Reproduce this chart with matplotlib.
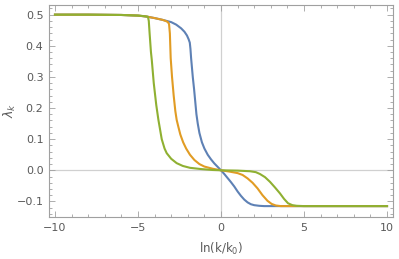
import matplotlib
matplotlib.use("Agg")
import matplotlib.pyplot as plt
from matplotlib.ticker import MultipleLocator

# ---- data ----
blue_x = [-10, -8, -6, -5, -4.5, -4, -3.5, -3, -2.7, -2.4, -2.2, -2.05, -1.95, -1.88,
          -1.84, -1.80, -1.75, -1.70, -1.62, -1.55, -1.48, -1.40, -1.30, -1.15, -1.0,
          -0.8, -0.6, -0.4, -0.2, 0, 0.2, 0.4, 0.6, 0.8, 1.0, 1.2, 1.4, 1.6, 1.8, 2.0,
          2.3, 2.6, 3, 5, 10]
blue_y = [0.5, 0.5, 0.499, 0.497, 0.494, 0.489, 0.483, 0.476, 0.468, 0.456, 0.445,
          0.433, 0.421, 0.41, 0.39, 0.36, 0.33, 0.30, 0.26, 0.22, 0.18, 0.15, 0.12,
          0.09, 0.07, 0.05, 0.035, 0.022, 0.011, 0, -0.012, -0.025, -0.038, -0.052,
          -0.068, -0.082, -0.094, -0.103, -0.109, -0.112, -0.114, -0.115, -0.115,
          -0.115, -0.115]

orange_x = [-10, -8, -6, -5, -4.5, -4, -3.5, -3.3, -3.2, -3.13, -3.08, -3.03, -2.95,
            -2.85, -2.75, -2.67, -2.57, -2.45, -2.28, -2.1, -1.87, -1.6, -1.3, -1.0,
            -0.5, 0, 0.5, 1.0, 1.3, 1.6, 1.9, 2.2, 2.5, 2.8, 3.05, 3.3, 3.6, 10]
orange_y = [0.5, 0.5, 0.499, 0.497, 0.494, 0.489, 0.483, 0.479, 0.476, 0.47, 0.44,
            0.36, 0.30, 0.24, 0.19, 0.162, 0.14, 0.115, 0.09, 0.07, 0.05, 0.033, 0.02,
            0.012, 0.005, 0, -0.004, -0.009, -0.015, -0.026, -0.04, -0.058, -0.08,
            -0.098, -0.108, -0.113, -0.115, -0.115]

green_x = [-10, -8, -6, -5, -4.6, -4.4, -4.35, -4.3, -4.22, -4.17, -4.05, -3.9, -3.77,
           -3.57, -3.4, -3.27, -3.0, -2.67, -2.3, -1.87, -1.2, -0.5, 0, 1, 1.75, 2.1,
           2.35, 2.65, 2.95, 3.25, 3.55, 3.8, 4.04, 4.3, 4.56, 5, 10]
green_y = [0.5, 0.5, 0.499, 0.497, 0.495, 0.493, 0.48, 0.44, 0.38, 0.355, 0.28, 0.21,
           0.162, 0.1, 0.07, 0.055, 0.037, 0.023, 0.014, 0.008, 0.004, 0.001, 0,
           -0.001, -0.003, -0.006, -0.012, -0.022, -0.037, -0.055, -0.074, -0.092,
           -0.106, -0.112, -0.114, -0.115, -0.115]

x_ticks = [-10, -5, 0, 5, 10]
y_ticks = [-0.1, 0.0, 0.1, 0.2, 0.3, 0.4, 0.5]
y_tick_labels = ["\u22120.1", "0.0", "0.1", "0.2", "0.3", "0.4", "0.5"]
x_tick_labels = ["\u221210", "\u22125", "0", "5", "10"]

# ---- styling ----
BLUE = "#5E81B5"
ORANGE = "#E19C24"
GREEN = "#8FB032"
FRAME = "#a0a0a0"
TEXT = "#5a5a5a"

fig = plt.figure(figsize=(3.99, 2.59), dpi=100)
ax = fig.add_axes([49/399, 1-217/259, (393-49)/399, (217-5)/259])

ax.axhline(0, color="#d0d0d0", lw=0.9, zorder=1)
ax.axvline(0, color="#d0d0d0", lw=0.9, zorder=1)

lw = 1.5
ax.plot(blue_x, blue_y, color=BLUE, lw=lw, zorder=3, solid_joinstyle="round")
ax.plot(orange_x, orange_y, color=ORANGE, lw=lw, zorder=4, solid_joinstyle="round")
ax.plot(green_x, green_y, color=GREEN, lw=lw, zorder=5, solid_joinstyle="round")

ax.set_xlim(-10.36, 10.36)
ax.set_ylim(-0.150, 0.531)

ax.set_xticks(x_ticks)
ax.set_xticklabels(x_tick_labels)
ax.set_yticks(y_ticks)
ax.set_yticklabels(y_tick_labels)
ax.xaxis.set_minor_locator(MultipleLocator(1))
ax.yaxis.set_minor_locator(MultipleLocator(0.02))

for s in ax.spines.values():
    s.set_color(FRAME)
    s.set_linewidth(0.8)

ax.tick_params(which="both", direction="in", top=True, right=True,
               color=FRAME, width=0.6, labelcolor=TEXT, labelsize=8)
ax.tick_params(which="major", length=4, pad=4)
ax.tick_params(which="minor", length=2)

ax.set_xlabel(r"ln(k/k$_0$)", color=TEXT, fontsize=8.5)
ax.set_ylabel(r"$\lambda_k$", color=TEXT, fontsize=9, rotation=90)
ax.xaxis.set_label_coords(0.5, (217-241)/212)
ax.yaxis.set_label_coords((18-49)/344, (217-110)/212)

fig.savefig("out.png", dpi=100)
